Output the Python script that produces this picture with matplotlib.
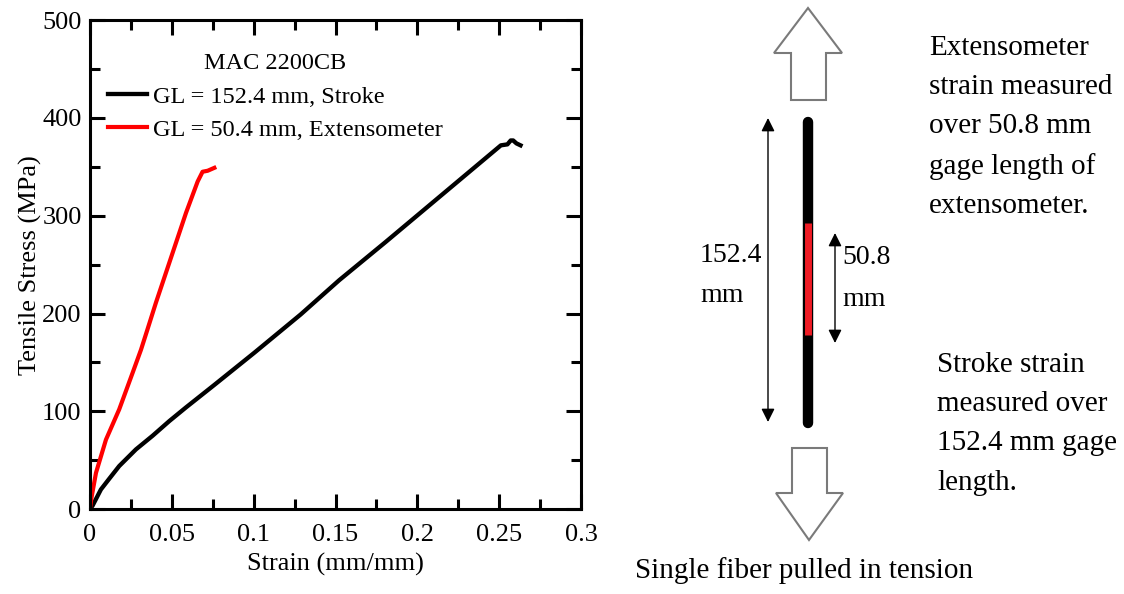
import matplotlib
matplotlib.use('Agg')
import matplotlib.pyplot as plt
from matplotlib.patches import Polygon
from matplotlib.ticker import MultipleLocator

plt.rcParams['font.family'] = ['Liberation Serif', 'DejaVu Serif']

# stress-strain curves
stroke_strain = [0, 0.0016, 0.0067, 0.0118, 0.0179, 0.0281, 0.0383, 0.0485, 0.0587, 0.076,
                 0.1005, 0.1287, 0.1522, 0.1805, 0.204, 0.2275, 0.251, 0.255, 0.257, 0.2585,
                 0.2605, 0.263]
stroke_stress = [0, 3.4, 20, 31, 44, 61, 75, 90, 104, 127,
                 160, 199, 234, 273, 306, 339, 372, 373, 377, 377,
                 374, 372]
ext_strain = [0, 0.001, 0.0037, 0.0098, 0.0179, 0.026, 0.0312, 0.0352, 0.0403, 0.0485,
              0.0587, 0.0658, 0.0688, 0.0719, 0.076]
ext_stress = [0, 12, 37, 71, 102, 139, 163, 184, 211, 252,
              303, 335, 345, 346, 349]

legend_title = 'MAC 2200CB'
label_stroke = 'GL = 152.4 mm, Stroke'
label_ext = 'GL = 50.4 mm, Extensometer'

fig = plt.figure(figsize=(11.24, 5.94), dpi=100)
ax = fig.add_axes([0.080, 0.143, 0.437, 0.823])

ax.plot(stroke_strain, stroke_stress, color='black', lw=3.1, label=label_stroke)
ax.plot(ext_strain, ext_stress, color='red', lw=3.0, label=label_ext)

ax.set_xlim(0, 0.3)
ax.set_ylim(0, 500)
ax.xaxis.set_major_locator(MultipleLocator(0.05))
ax.xaxis.set_minor_locator(MultipleLocator(0.025))
ax.yaxis.set_major_locator(MultipleLocator(100))
ax.yaxis.set_minor_locator(MultipleLocator(50))
ax.set_xticks([0, 0.05, 0.1, 0.15, 0.2, 0.25, 0.3])
ax.set_xticklabels(['0', '0.05', '0.1', '0.15', '0.2', '0.25', '0.3'])
ax.tick_params(which='both', direction='in', top=True, right=True, width=2.2, labelsize=19)
ax.tick_params(which='major', length=11)
ax.tick_params(which='minor', length=7)
ax.tick_params(axis='x', which='major', pad=11)
ax.tick_params(axis='y', which='major', pad=6)
for s in ax.spines.values():
    s.set_linewidth(2.2)
ax.set_xlabel('Strain (mm/mm)', fontsize=19, labelpad=5)
ax.set_ylabel('Tensile Stress (MPa)', fontsize=19, labelpad=0)

leg = ax.legend(title=legend_title, loc='upper left', bbox_to_anchor=(0.012, 0.957),
                frameon=False, fontsize=17.5, title_fontsize=17.5,
                handlelength=1.6, handletextpad=0.25, labelspacing=0.46, borderpad=0)

# schematic on the right, drawn in pixel coordinates
ov = fig.add_axes([0, 0, 1, 1])
ov.set_xlim(0, 1124)
ov.set_ylim(594, 0)
ov.axis('off')
ov.patch.set_alpha(0)

gray = '#7a7a7a'
up_arrow = [(808, 8), (842, 53), (826, 53), (826, 100), (791, 100), (791, 53), (774, 53)]
down_arrow = [(809, 540), (843, 493), (827, 493), (827, 448), (792, 448), (792, 493), (776, 493)]
ov.add_patch(Polygon(up_arrow, closed=True, fc='white', ec=gray, lw=1.5))
ov.add_patch(Polygon(down_arrow, closed=True, fc='white', ec=gray, lw=1.5))

# fiber with the extensometer section in red
ov.plot([808, 808], [122, 423], color='black', lw=7.5, solid_capstyle='round')
ov.plot([808, 808], [223, 335], color='#ee1c25', lw=5, solid_capstyle='butt')

arr = dict(arrowstyle='<|-|>', color='black', lw=1, mutation_scale=20, shrinkA=0, shrinkB=0)
ov.annotate('', xy=(768, 118), xytext=(768, 422), arrowprops=arr)
ov.annotate('', xy=(835, 233), xytext=(835, 343), arrowprops=arr)

ov.text(700, 255, '152.4', fontsize=20, va='center', ha='left')
ov.text(700, 296, 'mm', fontsize=20, va='center', ha='left')
ov.text(842, 258, '50.8', fontsize=20, va='center', ha='left')
ov.text(842, 300, 'mm', fontsize=20, va='center', ha='left')

ov.text(929, 35, 'Extensometer\nstrain measured\nover 50.8 mm\ngage length of\nextensometer.',
        fontsize=21, va='top', ha='left', linespacing=1.66)
ov.text(937, 352, 'Stroke strain\nmeasured over\n152.4 mm gage\nlength.',
        fontsize=21, va='top', ha='left', linespacing=1.66)
ov.text(635, 578, 'Single fiber pulled in tension', fontsize=21, va='baseline', ha='left')

fig.savefig('out.png', dpi=100)
